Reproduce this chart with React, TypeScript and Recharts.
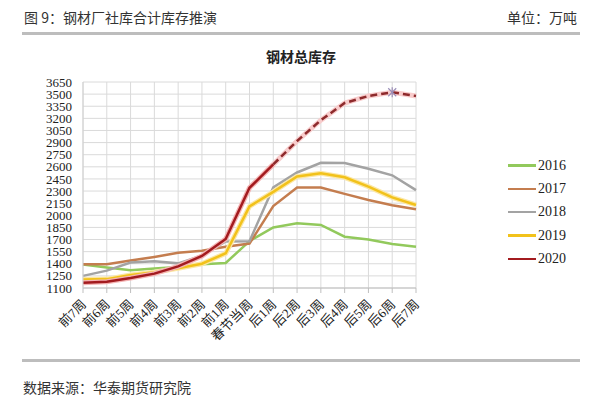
import React from 'react';
import { LineChart, Line, XAxis, YAxis, CartesianGrid, Legend } from 'recharts';

const weeks = ['前7周', '前6周', '前5周', '前4周', '前3周', '前2周', '前1周', '春节当周', '后1周', '后2周', '后3周', '后4周', '后5周', '后6周', '后7周'];

const y2016 = [1390, 1355, 1320, 1340, 1360, 1395, 1410, 1680, 1850, 1900, 1880, 1735, 1700, 1645, 1610];
const y2017 = [1395, 1395, 1440, 1485, 1535, 1560, 1610, 1650, 2115, 2345, 2345, 2265, 2190, 2125, 2075];
const y2018 = [1250, 1315, 1415, 1430, 1405, 1500, 1675, 1680, 2345, 2530, 2650, 2648, 2577, 2495, 2312];
const y2019 = [1205, 1210, 1260, 1295, 1345, 1400, 1530, 2110, 2290, 2480, 2520, 2470, 2355, 2222, 2128];
// 2020 actual up to 后1周, then the projection (dashed)
const y2020 = [1165, 1178, 1224, 1278, 1368, 1496, 1707, 2340, 2630];
const y2020f = [2630, 2920, 3177, 3390, 3477, 3523, 3477];

const yTicks = [1100, 1250, 1400, 1550, 1700, 1850, 2000, 2150, 2300, 2450, 2600, 2750, 2900, 3050, 3200, 3350, 3500, 3650];
const legendNames = ['2016', '2017', '2018', '2019', '2020'];

const C16 = '#92c95c';
const C17 = '#c47d4f';
const C18 = '#a3a3a3';
const C19 = '#f2c21b';
const C20 = '#a31b1f';

const forecastStart = y2020.length - 1;

const data = weeks.map((w, i) => ({
  week: w,
  y2016: y2016[i],
  y2017: y2017[i],
  y2018: y2018[i],
  y2019: y2019[i],
  y2020: i < y2020.length ? y2020[i] : null,
  y2020f: i >= forecastStart ? y2020f[i - forecastStart] : null,
}));

const serif = "'Liberation Serif', 'Noto Sans CJK SC', serif";
const cjk = "'Noto Sans CJK SC', sans-serif";

const XTick = (props: any) => {
  const { x, y, payload } = props;
  return (
    <text
      transform={`translate(${x + 4},${y + 10}) rotate(-45)`}
      textAnchor="end"
      fontSize={13}
      fontFamily={serif}
      fill="#222"
    >
      {payload.value}
    </text>
  );
};

// small asterisk marker on the projected peak
const PeakDot = (props: any) => {
  const { cx, cy, index } = props;
  if (index !== 13 || cx == null) return <g key={index} />;
  return (
    <g key={index} stroke="#9b8fb8" strokeWidth={1.2}>
      <line x1={cx - 4} y1={cy - 4} x2={cx + 4} y2={cy + 4} />
      <line x1={cx - 4} y1={cy + 4} x2={cx + 4} y2={cy - 4} />
      <line x1={cx} y1={cy - 5} x2={cx} y2={cy + 5} />
    </g>
  );
};

const renderLegend = (props: any) => {
  const items = (props.payload || []).filter((p: any) => legendNames.includes(p.value));
  return (
    <div>
      {items.map((p: any) => (
        <div key={p.value} style={{ display: 'flex', alignItems: 'center', height: 23.3 }}>
          <div style={{ width: 28, height: 2.5, background: p.color, marginRight: 2 }} />
          <span style={{ fontFamily: serif, fontSize: 14, color: '#222' }}>{p.value}</span>
        </div>
      ))}
    </div>
  );
};

const App: React.FC = () => {
  return (
    <div style={{ position: 'absolute', left: 0, top: 0, width: 600, height: 399, background: '#fff', overflow: 'hidden' }}>
      <div style={{ position: 'absolute', left: 24, top: 7, fontFamily: cjk, fontSize: 14, color: '#333' }}>
        图 9：钢材厂社库合计库存推演
      </div>
      <div style={{ position: 'absolute', right: 23, top: 7, fontFamily: cjk, fontSize: 14, color: '#333' }}>
        单位：万吨
      </div>
      <div style={{ position: 'absolute', left: 22, top: 32, width: 558, height: 3, background: '#bdbdbd' }} />
      <div style={{ position: 'absolute', left: 201, width: 200, top: 46, textAlign: 'center', fontFamily: cjk, fontWeight: 700, fontSize: 14, color: '#222' }}>
        钢材总库存
      </div>

      <div style={{ position: 'absolute', left: 0, top: 0 }}>
        <LineChart width={600} height={399} data={data} margin={{ top: 82, right: 104, left: 0, bottom: 51 }}>
          <CartesianGrid stroke="#dadada" strokeWidth={1} />
          <XAxis
            dataKey="week"
            interval={0}
            height={60}
            tick={<XTick />}
            tickSize={5}
            axisLine={{ stroke: '#bfbfbf' }}
            tickLine={{ stroke: '#bfbfbf' }}
          />
          <YAxis
            width={83}
            domain={[1100, 3650]}
            ticks={yTicks}
            interval={0}
            tickLine={false}
            tickSize={0}
            tickMargin={11}
            axisLine={{ stroke: '#d0d0d0' }}
            tick={{ fontFamily: serif, fontSize: 13, fill: '#222' }}
          />
          <Legend
            layout="vertical"
            verticalAlign="top"
            align="right"
            content={renderLegend}
            wrapperStyle={{ left: 508, top: 154, width: 80 }}
          />
          <Line dataKey="y2016" name="2016" stroke={C16} strokeWidth={2.5} dot={false} isAnimationActive={false} />
          <Line dataKey="y2017" name="2017" stroke={C17} strokeWidth={2.5} dot={false} isAnimationActive={false} />
          <Line dataKey="y2018" name="2018" stroke={C18} strokeWidth={2.5} dot={false} isAnimationActive={false} />
          <Line dataKey="y2019" name="2019glow" stroke="#fbe7a6" strokeWidth={5} dot={false} legendType="none" isAnimationActive={false} />
          <Line dataKey="y2019" name="2019" stroke={C19} strokeWidth={2.5} dot={false} isAnimationActive={false} />
          <Line dataKey="y2020" name="2020glow" stroke="#f4b3b3" strokeWidth={5} dot={false} legendType="none" isAnimationActive={false} />
          <Line dataKey="y2020f" name="2020fglow" stroke="#f8cccc" strokeWidth={5} dot={false} legendType="none" isAnimationActive={false} />
          <Line dataKey="y2020" name="2020" stroke={C20} strokeWidth={2.5} dot={false} isAnimationActive={false} />
          <Line
            dataKey="y2020f"
            name="2020f"
            stroke="#8e2a2c"
            strokeWidth={2.5}
            strokeDasharray="7 4"
            dot={<PeakDot />}
            legendType="none"
            isAnimationActive={false}
          />
        </LineChart>
      </div>

      <div style={{ position: 'absolute', left: 22, top: 359, width: 558, height: 3, background: '#bdbdbd' }} />
      <div style={{ position: 'absolute', left: 23, top: 377, fontFamily: cjk, fontSize: 14, color: '#333' }}>
        数据来源：华泰期货研究院
      </div>
    </div>
  );
};

export default App;
